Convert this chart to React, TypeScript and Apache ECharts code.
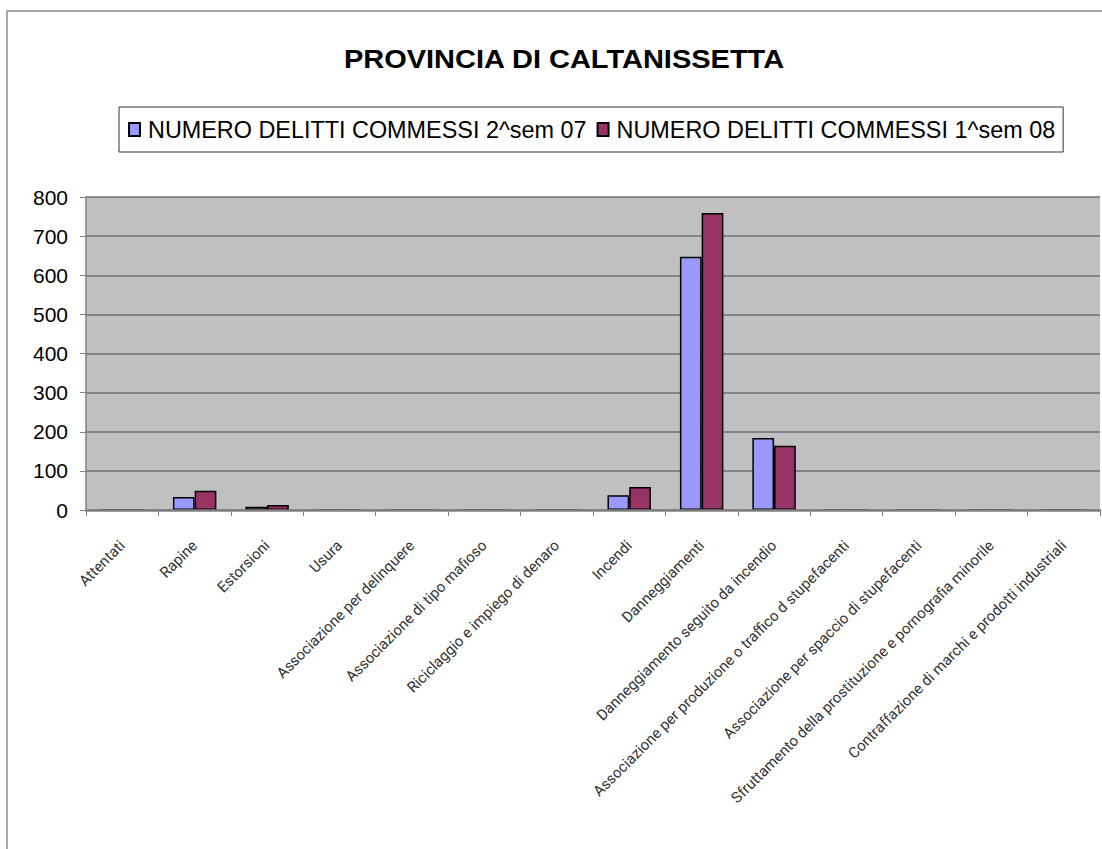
import React, { useEffect, useRef } from "react";
import * as echarts from "echarts";

const categories = [
  "Attentati",
  "Rapine",
  "Estorsioni",
  "Usura",
  "Associazione per delinquere",
  "Associazione di tipo mafioso",
  "Riciclaggio e impiego di denaro",
  "Incendi",
  "Danneggiamenti",
  "Danneggiamento seguito da incendio",
  "Associazione per produzione o traffico d stupefacenti",
  "Associazione per spaccio di stupefacenti",
  "Sfruttamento della prostituzione e pornografia minorile",
  "Contraffazione di marchi e prodotti industriali",
];

const seriesNames = [
  "NUMERO DELITTI COMMESSI 2^sem 07",
  "NUMERO DELITTI COMMESSI 1^sem 08",
];

const sem2_07 = [0, 33, 8, 0, 0, 0, 0, 38, 647, 184, 0, 0, 0, 0];
const sem1_08 = [0, 49, 13, 0, 0, 0, 0, 59, 759, 164, 0, 0, 0, 0];

const yTicks = [0, 100, 200, 300, 400, 500, 600, 700, 800];

export default function App() {
  const ref = useRef<HTMLDivElement>(null);
  useEffect(() => {
    if (!ref.current) return;
    const chart = echarts.init(ref.current, null, { renderer: "svg" });
    chart.setOption({
      animation: false,
      backgroundColor: "#ffffff",
      graphic: [
        {
          type: "rect",
          shape: { x: 7, y: 11, width: 1110, height: 860 },
          style: { fill: "none", stroke: "#a6a6a6", lineWidth: 2 },
          silent: true,
        },
        {
          type: "text",
          x: 564,
          y: 59,
          scaleX: 1.16,
          style: {
            text: "PROVINCIA DI CALTANISSETTA",
            x: 0,
            y: 0,
            fill: "#000",
            font: 'bold 25px "Liberation Sans", Arial, sans-serif',
            textAlign: "center",
            textVerticalAlign: "middle",
          },
        },
      ],
      legend: {
        left: 119,
        top: 107,
        padding: [11, 8, 11, 9],
        itemGap: 10,
        itemWidth: 11,
        itemHeight: 13,
        icon: "rect",
        borderColor: "#333",
        borderWidth: 1,
        backgroundColor: "#fff",
        textStyle: {
          fontFamily: '"Liberation Sans", Arial, sans-serif',
          fontSize: 23.4,
          color: "#000",
          padding: [0, 0, 0, 3],
        },
        data: seriesNames,
      },
      grid: {
        left: 86,
        top: 197,
        width: 1014,
        height: 313,
        show: true,
        backgroundColor: "#C0C0C0",
        borderWidth: 0,
      },
      xAxis: {
        type: "category",
        data: categories,
        z: 3,
        axisLine: { lineStyle: { color: "#808080", width: 2.5 } },
        axisTick: { show: true, length: 6, lineStyle: { color: "#808080" } },
        axisLabel: {
          rotate: 45,
          interval: 0,
          margin: 33,
          fontFamily: "Roboto, sans-serif",
          fontSize: 15,
          color: "#333",
        },
        splitLine: { show: false },
      },
      yAxis: {
        type: "value",
        min: yTicks[0],
        max: yTicks[yTicks.length - 1],
        interval: 100,
        axisLine: { show: true, lineStyle: { color: "#808080", width: 1.5 } },
        axisTick: { show: true, length: 6, lineStyle: { color: "#808080" } },
        axisLabel: {
          margin: 18,
          fontFamily: '"Liberation Sans", Arial, sans-serif',
          fontSize: 21,
          color: "#000",
        },
        splitLine: { show: true, lineStyle: { color: "#6e6e6e", width: 1.5 } },
      },
      series: [
        {
          name: seriesNames[0],
          type: "bar",
          data: sem2_07,
          barGap: "0%",
          barCategoryGap: "40%",
          itemStyle: { color: "#9999FF", borderColor: "#000", borderWidth: 1.5 },
        },
        {
          name: seriesNames[1],
          type: "bar",
          data: sem1_08,
          barGap: "0%",
          barCategoryGap: "40%",
          itemStyle: { color: "#993366", borderColor: "#000", borderWidth: 1.5 },
        },
      ],
    });
    return () => chart.dispose();
  }, []);
  return (
    <div
      ref={ref}
      style={{ position: "absolute", left: 0, top: 0, width: 1102, height: 849 }}
    />
  );
}
